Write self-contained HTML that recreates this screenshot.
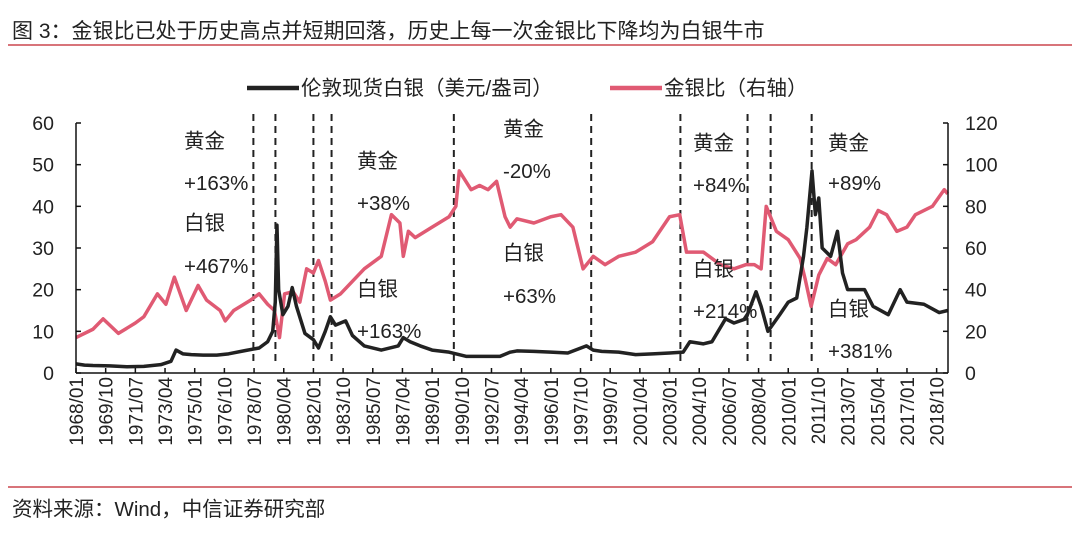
<!DOCTYPE html>
<html><head><meta charset="utf-8"><style>
body{margin:0;background:#fff;width:1080px;height:533px;overflow:hidden;font-family:"Liberation Sans","Noto Sans CJK SC",sans-serif;}
svg text{font-family:"Liberation Sans","Noto Sans CJK SC",sans-serif;fill:#222;}
</style></head><body>
<svg id="chart" width="1080" height="533">
<text x="12" y="38" font-size="21">图 3：金银比已处于历史高点并短期回落，历史上每一次金银比下降均为白银牛市</text>
<line x1="8" y1="45" x2="1072" y2="45" stroke="#c0202a" stroke-width="1.2"/>
<line x1="8" y1="487" x2="1072" y2="487" stroke="#c0202a" stroke-width="1.2"/>
<text x="12" y="516" font-size="20.5">资料来源：Wind，中信证券研究部</text>
<g>
<line x1="247" y1="88" x2="299" y2="88" stroke="#222" stroke-width="4.5"/>
<text x="301" y="95" font-size="20.5">伦敦现货白银（美元/盎司）</text>
<line x1="610" y1="88" x2="662" y2="88" stroke="#e05a73" stroke-width="4.5"/>
<text x="664" y="95" font-size="20.5">金银比（右轴）</text>
</g>
<g id="plot"></g>
</svg>
<script>
const silverDates=[1968,1968.5,1969,1970,1971,1972,1973,1973.6,1973.9,1974.3,1974.8,1975.5,1976.3,1977,1978,1978.8,1979.3,1979.6,1979.75,1979.85,1979.95,1980.2,1980.5,1980.75,1981,1981.5,1982,1982.3,1982.7,1983.0,1983.3,1983.6,1983.9,1984.3,1985,1986,1987.0,1987.3,1987.7,1988.3,1989,1990,1991,1992,1993,1993.6,1994,1995,1996,1997,1998.1,1998.5,1999,2000,2001,2002,2003,2003.8,2004.2,2005,2005.5,2006.3,2006.8,2007.5,2008.1,2008.4,2008.8,2009.5,2010,2010.5,2010.9,2011.1,2011.4,2011.6,2011.8,2012,2012.5,2012.9,2013.2,2013.5,2014,2014.5,2015,2015.9,2016.6,2017,2018,2018.9,2019.4];
const silverValues=[2.2,1.9,1.8,1.7,1.5,1.6,2.0,2.8,5.5,4.6,4.4,4.3,4.3,4.6,5.4,6.0,7.5,10,17,35.5,20,14,16,20.5,16,9.5,8,6,10,13.5,11.5,12,12.5,9,6.5,5.5,6.5,8.5,7.5,6.5,5.5,5,4,4,4,5,5.3,5.2,5.0,4.8,6.5,5.5,5.2,5.0,4.4,4.6,4.8,5,7.5,7,7.5,13,12,13,19.5,16,10,14,17,18,28,35,48.5,38,42,30,28,34,24,20,20,20,16,14,20,17,16.5,14.5,15];
const ratioDates=[1968,1969,1969.6,1970.5,1971.5,1972,1972.8,1973.3,1973.8,1974.5,1975.2,1975.7,1976.5,1976.8,1977.3,1978.3,1978.8,1979.3,1979.7,1980.0,1980.3,1980.8,1981.2,1981.6,1982.0,1982.3,1982.7,1983.0,1983.6,1984.3,1985,1986,1986.6,1987.1,1987.3,1987.6,1988,1989,1990.0,1990.4,1990.6,1991.3,1991.8,1992.3,1992.8,1993.3,1993.6,1994,1995,1996.0,1996.6,1997.3,1997.9,1998.5,1999.2,2000,2001,2002,2003.0,2003.6,2004.0,2005,2006,2006.8,2007.5,2008.0,2008.4,2008.7,2009.3,2010,2010.7,2011.0,2011.35,2011.8,2012.3,2012.8,2013.5,2014,2014.8,2015.3,2015.8,2016.4,2017,2017.5,2018.5,2019.2,2019.4];
const ratioValues=[17,21,26,19,24,27,38,33,46,30,42,35,30,25,30,35,38,33,30,17,38,39,34,50,48,54,44,35,38,44,50,56,76,72,56,68,65,70,75,80,97,88,90,88,92,75,70,74,72,75,76,70,50,56,52,56,58,63,75,76,58,58,52,50,52,52,50,80,68,64,55,45,32,47,55,52,62,64,70,78,76,68,70,76,80,88,86];
const eventDates=[1978.46,1979.76,1982.0,1983.07,1990.28,1998.38,2003.64,2007.6,2008.96,2011.38];
const leftTicks=[0,10,20,30,40,50,60];
const rightTicks=[0,20,40,60,80,100,120];
const xTickLabels=["1968/01","1969/10","1971/07","1973/04","1975/01","1976/10","1978/07","1980/04","1982/01","1983/10","1985/07","1987/04","1989/01","1990/10","1992/07","1994/04","1996/01","1997/10","1999/07","2001/04","2003/01","2004/10","2006/07","2008/04","2010/01","2011/10","2013/07","2015/04","2017/01","2018/10"];
const notes=[
 {x:184,t:["黄金","+163%","白银","+467%"],y:[148,190,230,273]},
 {x:357,t:["黄金","+38%"],y:[168,210]},
 {x:357,t:["白银","+163%"],y:[296,338]},
 {x:503,t:["黄金","-20%"],y:[136,178]},
 {x:503,t:["白银","+63%"],y:[260,303]},
 {x:693,t:["黄金","+84%","白银","+214%"],y:[150,192,276,318]},
 {x:828,t:["黄金","+89%"],y:[150,190]},
 {x:828,t:["白银","+381%"],y:[316,358]}];
const X0=76,X1=948,Y0=373,Y1=123,T0=1968,T1=2019.42;
const xs=t=>X0+(t-T0)/(T1-T0)*(X1-X0);
const yl=v=>Y0-v/60*(Y0-Y1);
const yr=v=>Y0-v/120*(Y0-Y1);
const NS="http://www.w3.org/2000/svg";
const plot=document.getElementById('plot');
function mk(tag,attrs){const e=document.createElementNS(NS,tag);for(const k in attrs)e.setAttribute(k,attrs[k]);plot.appendChild(e);return e;}
eventDates.forEach(d=>{const l=mk('line',{x1:xs(d),x2:xs(d),y1:114,y2:364,stroke:'#222','stroke-width':2,'stroke-dasharray':'7,5'});

});
let p=mk('polyline',{points:ratioDates.map((d,i)=>xs(d)+','+yr(ratioValues[i])).join(' '),fill:'none',stroke:'#e05a73','stroke-width':3.5,'stroke-linejoin':'round'});


p=mk('polyline',{points:silverDates.map((d,i)=>xs(d)+','+yl(silverValues[i])).join(' '),fill:'none',stroke:'#222','stroke-width':3.5,'stroke-linejoin':'round'});


let a=mk('line',{x1:X0,x2:X0,y1:Y1,y2:Y0,stroke:'#111','stroke-width':1.5});


a=mk('line',{x1:X1,x2:X1,y1:Y1,y2:Y0,stroke:'#111','stroke-width':1.5});


a=mk('line',{x1:X0,x2:X1,y1:Y0,y2:Y0,stroke:'#111','stroke-width':1.5});


leftTicks.forEach(v=>{mk('line',{x1:X0,x2:X0+5,y1:yl(v),y2:yl(v),stroke:'#111','stroke-width':1.5});
const t=mk('text',{x:54,y:yl(v)+7,'font-size':19.5,'text-anchor':'end'});t.textContent=v;

});
rightTicks.forEach(v=>{mk('line',{x1:X1-5,x2:X1,y1:yr(v),y2:yr(v),stroke:'#111','stroke-width':1.5});
const t=mk('text',{x:965,y:yr(v)+7,'font-size':19.5});t.textContent=v;

});
xTickLabels.forEach((s,i)=>{const yy=+s.slice(0,4),mm=+s.slice(5);const x=xs(yy+(mm-1)/12);
mk('line',{x1:x,x2:x,y1:Y0,y2:Y0-5,stroke:'#111','stroke-width':1.5});
const t=mk('text',{x:0,y:0,'font-size':19,'text-anchor':'end',transform:`translate(${x+7},377) rotate(-90)`});t.textContent=s;

});
notes.forEach(n=>n.t.forEach((s,i)=>{const t=mk('text',{x:n.x,y:n.y[i],'font-size':20.5});t.textContent=s;

}));
</script>
</body></html>
